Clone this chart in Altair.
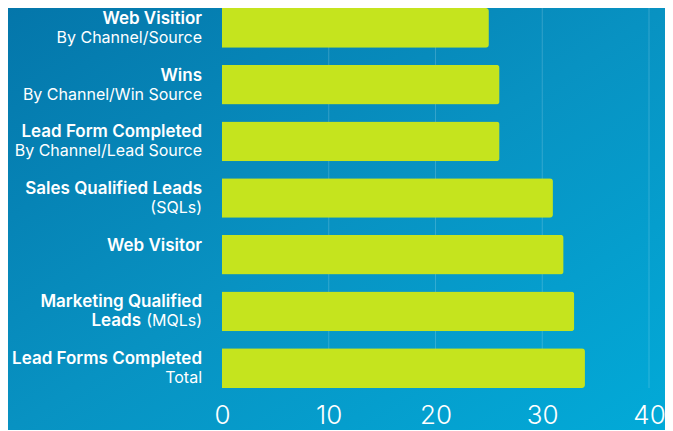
import altair as alt
import pandas as pd

keys = ["web_ch", "wins", "lead_ch", "sql", "web", "mql", "lead_total"]
bold_line1 = ["Web Visitior", "Wins", "Lead Form Completed", "Sales Qualified Leads",
              "Web Visitor", "Marketing Qualified", "Lead Forms Completed"]
bold_line2 = ["", "", "", "", "", "Leads", ""]
regular_line2 = ["By Channel/Source", "By Channel/Win Source", "By Channel/Lead Source",
                 "(SQLs)", "", "(MQLs)", "Total"]
values = [25, 26, 26, 31, 32, 33, 34]
x_ticks = [0, 10, 20, 30, 40]
grid_values = [10, 20, 30, 40]

df = pd.DataFrame({
    "key": keys,
    "bold1": bold_line1,
    "bold2": bold_line2,
    "reg2": regular_line2,
    "value": values,
})
grid_df = pd.DataFrame({"value": grid_values})

FONT = "Inter"
W, H = 427, 380
PAD = {"left": 214, "top": 0, "right": 16, "bottom": 42}

x_axis = alt.Axis(values=x_ticks, title=None, grid=False, domain=False,
                  ticks=False, tickSize=0, labelPadding=14, zindex=1,
                  labelFontSize=26, labelColor="white", labelFont=FONT,
                  labelFontWeight=300, labelFlush=False, labelOverlap=False)
x_scale = alt.Scale(domain=[0, 40], nice=False)

y_enc = alt.Y("key:N", sort=keys, axis=None,
              scale=alt.Scale(paddingInner=0.3, paddingOuter=0))

bg = alt.Chart(alt.Data(values=[{}])).mark_rect(
    color=alt.Gradient(
        gradient="linear",
        stops=[alt.GradientStop(color="#0476aa", offset=0),
               alt.GradientStop(color="#0892c2", offset=0.5),
               alt.GradientStop(color="#02aad8", offset=1)],
        x1=0, y1=0, x2=1, y2=1),
).encode(
    x=alt.value(-PAD["left"]), x2=alt.value(W + PAD["right"]),
    y=alt.value(-PAD["top"]), y2=alt.value(H + PAD["bottom"]),
)

grid = alt.Chart(grid_df).mark_rule(color="white", opacity=0.18, strokeWidth=1).encode(
    x=alt.X("value:Q", scale=x_scale, axis=x_axis)
)

bars = alt.Chart(df).mark_bar(color="#c5e41e", cornerRadiusEnd=3).encode(
    x=alt.X("value:Q", scale=x_scale, axis=x_axis),
    y=y_enc,
)

t_bold1 = alt.Chart(df).mark_text(align="right", baseline="middle", dy=-9,
                                  font=FONT, fontSize=17, fontWeight=600,
                                  color="white").encode(
    y=y_enc, x=alt.value(-20), text="bold1:N")

t_bold2 = alt.Chart(df).mark_text(align="right", baseline="middle", dy=10, dx=-61,
                                  font=FONT, fontSize=17, fontWeight=600,
                                  color="white").encode(
    y=y_enc, x=alt.value(-20), text="bold2:N")

t_reg2 = alt.Chart(df).mark_text(align="right", baseline="middle", dy=10,
                                 font=FONT, fontSize=16, fontWeight=400,
                                 color="white").encode(
    y=y_enc, x=alt.value(-20), text="reg2:N")

chart = alt.layer(bg, grid, bars, t_bold1, t_bold2, t_reg2).properties(
    width=W, height=H, padding=PAD,
    autosize=alt.AutoSizeParams(type="none"),
    background="#0892c2",
).configure_view(stroke=None)

chart.save("out.html", embed_options={"renderer": "svg", "actions": False})
